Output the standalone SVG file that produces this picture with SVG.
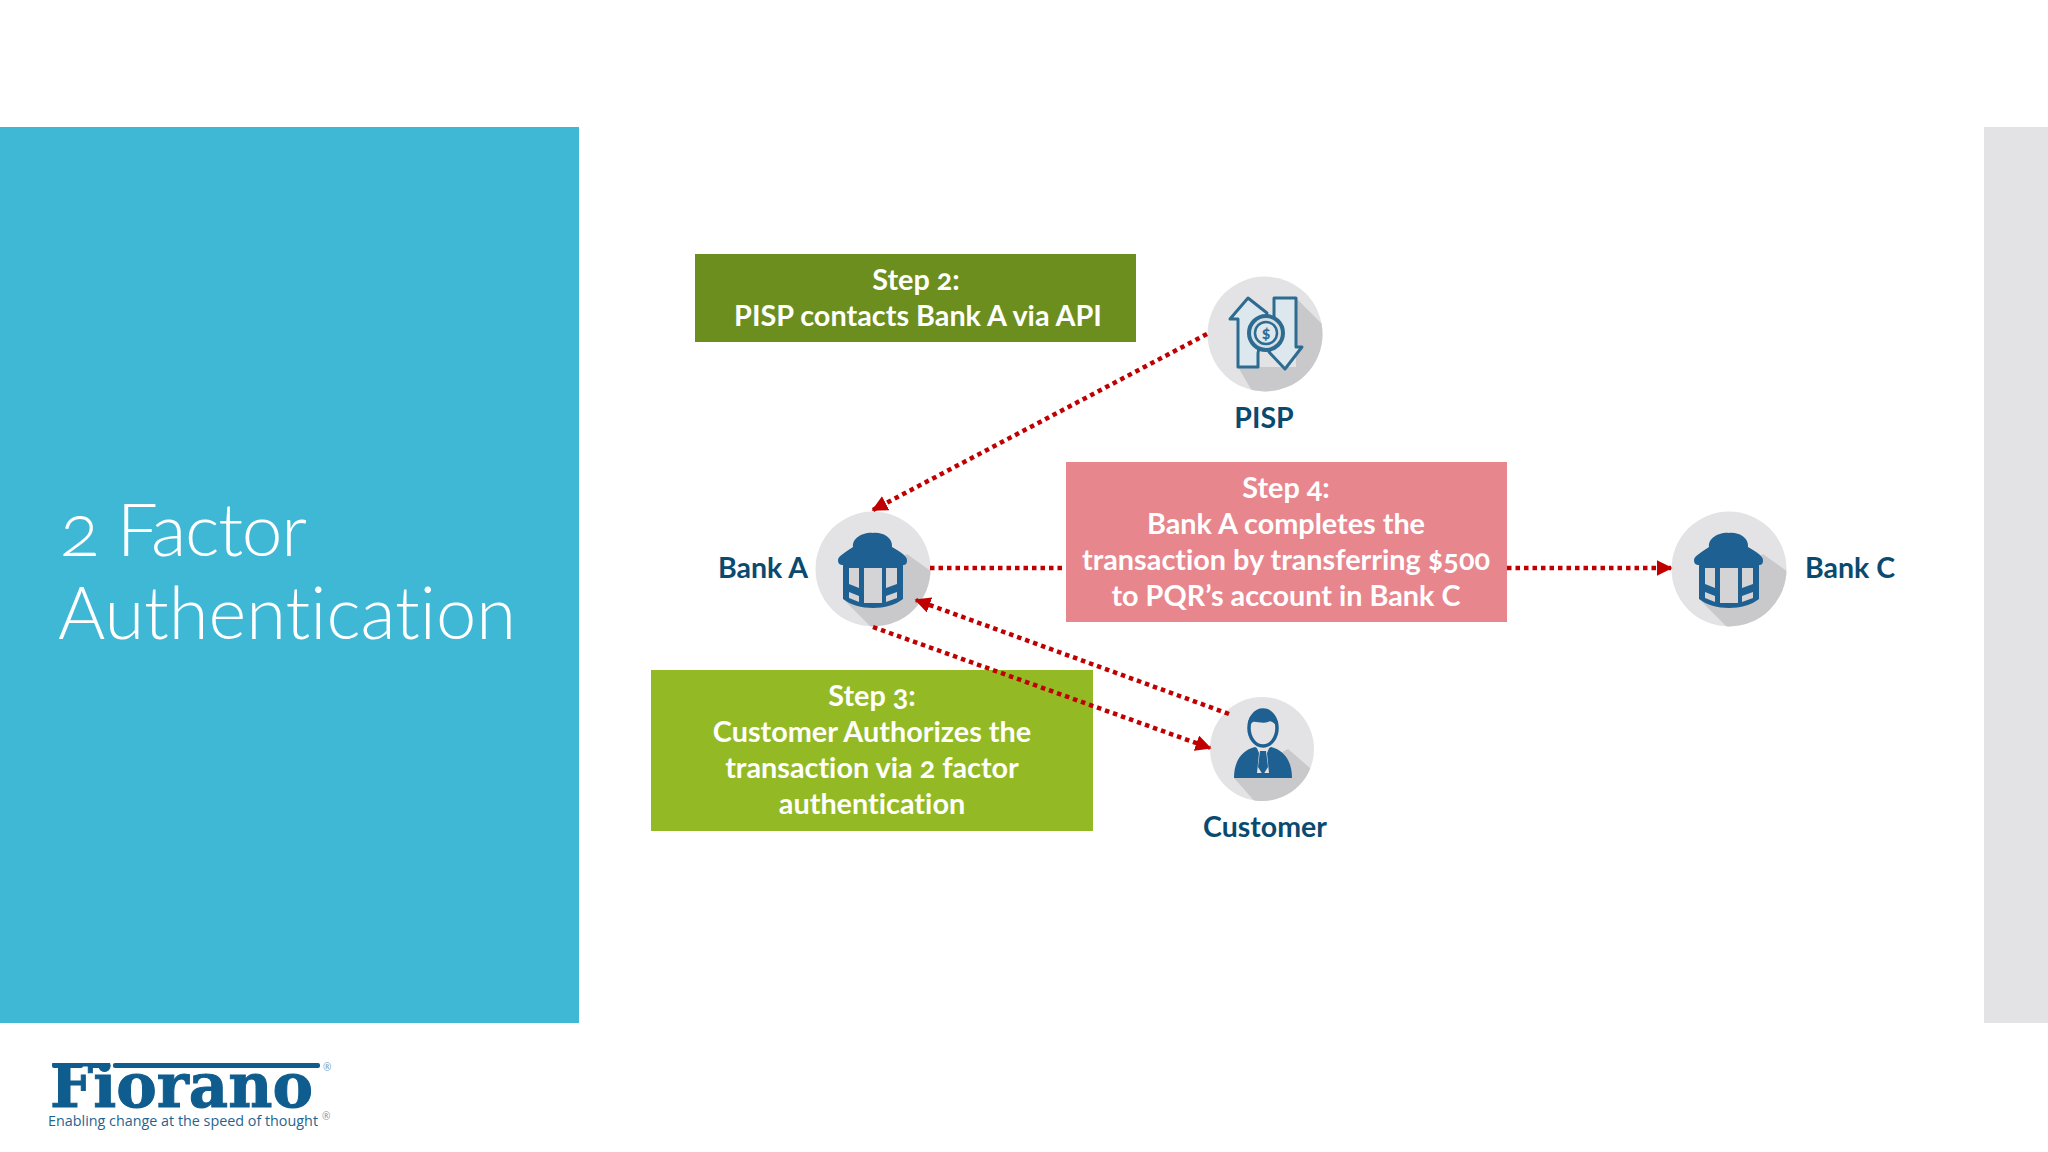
<svg xmlns="http://www.w3.org/2000/svg" xmlns:xlink="http://www.w3.org/1999/xlink" width="2048" height="1152" viewBox="0 0 2048 1152">
<style>
text{font-family:"Lato","Open Sans",sans-serif;font-variant-numeric:oldstyle-nums;font-variant-ligatures:none}
.t{fill:#fff;font-weight:700;font-size:28.8px;text-anchor:middle}
.l{fill:#0b4a6f;font-weight:700;font-size:28.5px}
.h{fill:#fff;font-weight:300;font-size:73px}
.c{fill:none;stroke:#c00000;stroke-width:4.5;stroke-dasharray:4.5 4}
.disc{fill:#e3e3e5}
.sh{fill:#c9c9cb}
.b{fill:#1e6091}
.ar{fill:#dde8ee;stroke:#2d6c90;stroke-width:3;stroke-linejoin:round}
</style>
<defs>
<marker id="ah" viewBox="0 0 10 10" refX="9" refY="5" markerWidth="16" markerHeight="16" markerUnits="userSpaceOnUse" orient="auto"><path d="M0 0L10 5L0 10Z" fill="#c00000"/></marker>
<clipPath id="cb"><circle r="57.5"/></clipPath>
<clipPath id="cc"><circle r="52"/></clipPath>
<clipPath id="lg"><rect x="40" y="1063" width="290" height="50"/></clipPath>
<g id="bank">
<circle class="disc" r="57.5"/>
<path class="sh" clip-path="url(#cb)" d="M34-15L62 5V62H2L-28 32Z"/>
<path class="b" d="M-20-22C-21-32-8-37 0-36C9-37 20-32 19-22C27-17 35-13 34-8C34-4 31-4 30-4V30C15 42-15 42-30 30V-4C-33-4-35-5-35-9C-35-13-27-17-20-22Z"/>
<g fill="#d4d4d6"><path d="M-24-1H-14V19L-24 15Z"/><path d="M-9-1H9V34H-9Z"/><path d="M13-1H24V15L13 19Z"/><path d="M-24 23L-14 27V33L-24 29Z"/><path d="M24 23L13 27V33L24 29Z"/></g>
</g>
</defs>
<rect width="2048" height="1152" fill="#fff"/>
<rect x="0" y="127" width="579" height="896" fill="#3fb8d6"/>
<rect x="1984" y="127" width="64" height="896" fill="#e3e3e5"/>
<text class="h" x="60" y="556" textLength="247" lengthAdjust="spacing">2 Factor</text>
<text class="h" x="58" y="639" textLength="458" lengthAdjust="spacingAndGlyphs">Authentication</text>

<g id="step2"><rect x="695" y="254" width="441" height="88" fill="#6b8e1f"/>
<text class="t" x="916" y="290">Step 2:</text><text class="t" x="918" y="326">PISP contacts Bank A via API</text></g>
<g id="step4"><rect x="1066" y="462" width="441" height="160" fill="#e8868e"/>
<text class="t" x="1286" y="498">Step 4:</text><text class="t" x="1286" y="534">Bank A completes the</text><text class="t" x="1286" y="570">transaction by transferring $500</text><text class="t" x="1286" y="606">to PQR’s account in Bank C</text></g>
<g id="step3"><rect x="651" y="670" width="442" height="161" fill="#93ba24"/>
<text class="t" x="872" y="706">Step 3:</text><text class="t" x="872" y="742">Customer Authorizes the</text><text class="t" x="872" y="778">transaction via 2 factor</text><text class="t" x="872" y="814">authentication</text></g>

<g id="pisp" transform="translate(1265 334)">
<circle class="disc" r="57.5"/>
<path class="sh" clip-path="url(#cb)" d="M31-36L62-5V62H-10L-27 33H31Z"/>
<path class="ar" d="M-17-36L-35-15H-27V33H-7V19L2-21Z"/>
<path class="ar" d="M9-36H31V13H37L20 35L4 18L9 10Z"/>
<circle r="17" cx="1" cy="-1" fill="#d5dfe5" stroke="#2d6c90" stroke-width="4"/>
<circle r="11" cx="1" cy="-1" fill="#dde8ee" stroke="#2d6c90" stroke-width="2.5"/>
<text x="1" y="5" text-anchor="middle" style="font-size:17px;font-weight:700;fill:#2d6c90">$</text>
<text class="l" x="-1" y="94" text-anchor="middle">PISP</text>
</g>
<g id="bankA" transform="translate(873 569)"><use href="#bank" xlink:href="#bank"/><text class="l" x="-65" y="9" text-anchor="end">Bank A</text></g>
<g id="bankC" transform="translate(1729 569)"><use href="#bank" xlink:href="#bank"/><text class="l" x="76" y="9">Bank C</text></g>
<g id="customer" transform="translate(1262 749)">
<circle class="disc" r="52"/>
<path class="sh" clip-path="url(#cc)" d="M26 0L55 25V55H-5L-28 29Z"/>
<path class="b" d="M-28 29C-28 12-20 1-7-2L1 2L9-2C22 1 30 12 30 29Z"/>
<path d="M-6-3H8L5 4L7 24H-5L-3 4Z" fill="#e3e3e5"/><path d="M-2 2H4L6 18L1 26L-4 18Z" fill="#1e6091"/>
<ellipse cx="1" cy="-21" rx="14" ry="18" fill="#e3e3e5" stroke="#1e6091" stroke-width="3.5"/>
<path class="b" d="M-13-22C-16-32-8-38 1-38C10-38 17-32 15-22C12-27 8-29 6-27C1-25-7-28-9-27C-11-26-12-24-13-22Z"/>
<text class="l" x="3" y="88" text-anchor="middle">Customer</text>
</g>

<g id="connectors">
<path class="c" marker-end="url(#ah)" d="M1207 334L873 510"/>
<path class="c" d="M930 568H1066"/>
<path class="c" marker-end="url(#ah)" d="M1507 568H1671"/>
<path class="c" marker-end="url(#ah)" d="M1229 714L916 600"/>
<path class="c" marker-end="url(#ah)" d="M873 627L1210 748"/>
</g>

<g id="logo">
<rect x="52" y="1063" width="31" height="5" rx="2" fill="#0f5c8e"/>
<rect x="88" y="1063" width="20" height="5" rx="2" fill="#0f5c8e"/>
<rect x="113" y="1063" width="207" height="5" rx="2" fill="#0f5c8e"/>
<text clip-path="url(#lg)" x="50" y="1107" textLength="263" lengthAdjust="spacingAndGlyphs" style="font-family:'DejaVu Serif',serif;font-weight:700;font-size:62px;fill:#0f5c8e;stroke:#0f5c8e;stroke-width:1">Fiorano</text>
<text x="48" y="1126" textLength="270" lengthAdjust="spacingAndGlyphs" style="font-family:'Open Sans',sans-serif;font-size:15px;fill:#1f6491">Enabling change at the speed of thought</text>
<text x="323" y="1071" style="font-family:'Open Sans',sans-serif;font-size:10px;fill:#7a97ad">®</text>
<text x="322" y="1120" style="font-family:'Open Sans',sans-serif;font-size:10px;fill:#7a97ad">®</text>
</g>
</svg>
